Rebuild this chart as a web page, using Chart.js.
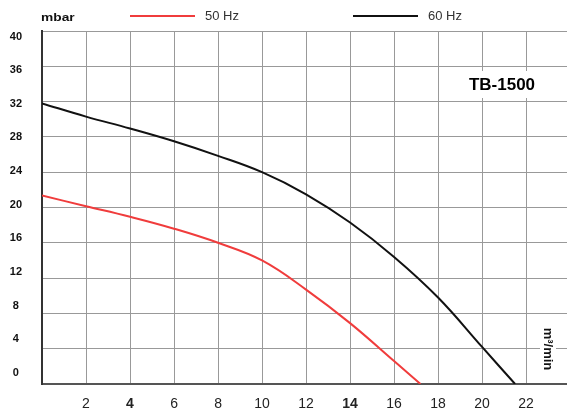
<!DOCTYPE html>
<html>
<head>
<meta charset="utf-8">
<script src="https://cdn.jsdelivr.net/npm/chart.js@4/dist/chart.umd.min.js"></script>
<style>
  html, body { margin: 0; padding: 0; background: #fff; }
  #wrap { position: relative; width: 567px; height: 412px; }
</style>
</head>
<body>
<div id="wrap"><canvas id="c" width="567" height="412"></canvas></div>
<script>
// ---- data ----
const flow50 = [0, 2, 4, 6, 8, 10, 12, 14, 16, 17.2];
const press50 = [21.35, 20.15, 18.95, 17.6, 16.0, 14.0, 10.7, 6.9, 2.6, 0];
const flow60 = [0, 2, 4, 6, 8, 10, 12, 14, 16, 18, 20, 21.5];
const press60 = [31.8, 30.3, 28.95, 27.5, 25.85, 24.0, 21.5, 18.3, 14.4, 9.8, 4.2, 0];
const seriesLabels = ['50 Hz', '60 Hz'];
const yTicks = [0, 4, 8, 12, 16, 20, 24, 28, 32, 36, 40];
const xTicks = [2, 4, 6, 8, 10, 12, 14, 16, 18, 20, 22];
const boldXTicks = [4, 14];
const modelName = 'TB-1500';
const yUnit = 'mbar';
const xUnit = 'm³/min';

const FONT = '"Liberation Sans", Arial, sans-serif';
const RED = '#f03c3c';
const BLACK = '#111111';

const toPts = (xs, ys) => xs.map((x, i) => ({ x: x, y: ys[i] }));

const overlay = {
  id: 'overlay',
  afterDraw(chart) {
    const ctx = chart.ctx;
    ctx.save();
    // y unit (slightly wide lettering as in the reference)
    ctx.save();
    ctx.translate(41, 18);
    ctx.scale(1.25, 1);
    ctx.fillStyle = '#111';
    ctx.font = 'bold 11px ' + FONT;
    ctx.textAlign = 'left';
    ctx.textBaseline = 'middle';
    ctx.fillText(yUnit, 0, 0);
    ctx.restore();
    // legend
    const items = [
      { x0: 130, label: seriesLabels[0], color: RED },
      { x0: 353, label: seriesLabels[1], color: BLACK }
    ];
    ctx.textAlign = 'left';
    ctx.textBaseline = 'middle';
    items.forEach(it => {
      ctx.strokeStyle = it.color;
      ctx.lineWidth = 2;
      ctx.beginPath();
      ctx.moveTo(it.x0, 16);
      ctx.lineTo(it.x0 + 65, 16);
      ctx.stroke();
      ctx.fillStyle = '#333';
      ctx.font = '13px ' + FONT;
      ctx.fillText(it.label, it.x0 + 75, 16);
    });
    // model name with white backing
    ctx.fillStyle = '#fff';
    ctx.fillRect(462, 71, 80, 27);
    ctx.fillStyle = '#000';
    ctx.font = 'bold 17px ' + FONT;
    ctx.textAlign = 'center';
    ctx.fillText(modelName, 502, 85);
    // x unit, rotated
    ctx.translate(548, 349);
    ctx.rotate(Math.PI / 2);
    ctx.fillStyle = '#fff';
    ctx.fillRect(-26, -8, 52, 16);
    ctx.fillStyle = '#111';
    ctx.font = 'bold 13px ' + FONT;
    ctx.fillText(xUnit, 0, 0);
    ctx.restore();
  }
};

new Chart(document.getElementById('c'), {
  type: 'line',
  data: {
    datasets: [
      { label: seriesLabels[0], data: toPts(flow50, press50), borderColor: RED, borderWidth: 2,
        pointRadius: 0, fill: false, tension: 0.4 },
      { label: seriesLabels[1], data: toPts(flow60, press60), borderColor: BLACK, borderWidth: 2,
        pointRadius: 0, fill: false, tension: 0.4 }
    ]
  },
  options: {
    responsive: false,
    animation: false,
    devicePixelRatio: 1,
    layout: { padding: { top: 31, right: 0, bottom: 0, left: 0 } },
    plugins: { legend: { display: false }, tooltip: { enabled: false } },
    scales: {
      x: {
        type: 'linear', min: 0, max: 23.86,
        afterFit: s => { s.height = 28; },
        afterBuildTicks: s => { s.ticks = [0].concat(xTicks).map(v => ({ value: v })); },
        ticks: {
          padding: 12, color: '#222',
          callback: v => (v === 0 ? '' : String(v)),
          font: c => ({ family: FONT, size: 14, weight: (c.tick && boldXTicks.includes(c.tick.value)) ? 'bold' : 'normal' }),
          maxRotation: 0, autoSkip: false
        },
        grid: { color: '#999', lineWidth: 1, drawTicks: false },
        border: { color: '#555', width: 2 }
      },
      y: {
        position: 'left',
        min: 0, max: 40,
        afterFit: s => { s.width = 0; },
        afterBuildTicks: s => { s.ticks = yTicks.map(v => ({ value: v })); },
        ticks: { display: false },
        grid: { color: '#999', lineWidth: 1, drawTicks: false },
        border: { color: '#333', width: 2 }
      },
      yLabels: {
        position: 'left',
        min: -1.307, max: 40.654,
        afterFit: s => { s.width = 42; },
        afterBuildTicks: s => { s.ticks = yTicks.map(v => ({ value: v })); },
        ticks: {
          padding: 20, color: '#111', crossAlign: 'center',
          font: { family: FONT, size: 11, weight: 'bold' }
        },
        grid: { display: false, drawTicks: false },
        border: { display: false }
      }
    }
  },
  plugins: [overlay]
});
</script>
</body>
</html>
